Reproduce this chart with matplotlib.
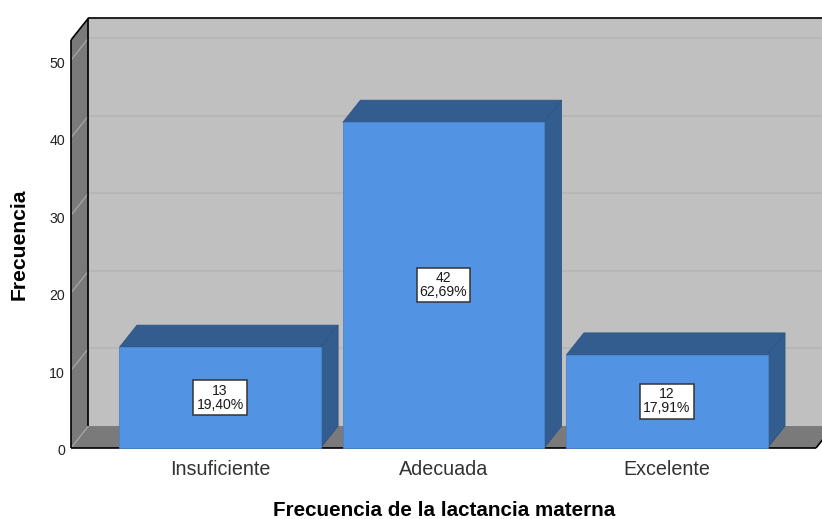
# coding: UTF-8

import matplotlib
matplotlib.use('Agg')

import matplotlib.pyplot as plt
from matplotlib.patches import Polygon

plt.rcParams['font.family'] = ['Liberation Sans', 'DejaVu Sans']

categorias = ['Insuficiente', 'Adecuada', 'Excelente']
frecuencias = [13, 42, 12]
porcentajes = ['19,40%', '62,69%', '17,91%']
marcas_y = [0, 10, 20, 30, 40, 50]

# depth of the 3D box, in data units
DX = 0.0783
DY = 2.835
ANCHO = 0.9
XMIN, XMAX = -0.667, 2.667
YMAX = 52.6

PARED = '#c0c0c0'
LATERAL = '#7a7a7a'
AZUL = '#5294e3'
AZUL_OSC = '#335c8f'

fig = plt.figure(figsize=(8.22, 5.19), dpi=100, facecolor='white')
ax = fig.add_axes([71 / 822, 71 / 519, 745 / 822, 408 / 519])
ax.set_xlim(XMIN, XMAX)
ax.set_ylim(0, YMAX)
ax.axis('off')


def cara(puntos, color, zorder, edge='none', lw=0.0):
    p = Polygon(puntos, closed=True, facecolor=color, edgecolor=edge,
                linewidth=lw, zorder=zorder, clip_on=False)
    ax.add_patch(p)


def linea(xs, ys, color='black', lw=1.2, zorder=3):
    ax.plot(xs, ys, color=color, lw=lw, zorder=zorder, clip_on=False,
            solid_capstyle='butt')


# back wall, side wall and floor
cara([(XMIN + DX, DY), (XMAX + DX, DY), (XMAX + DX, YMAX + DY), (XMIN + DX, YMAX + DY)], PARED, 1)
cara([(XMIN, 0), (XMIN + DX, DY), (XMIN + DX, YMAX + DY), (XMIN, YMAX)], LATERAL, 1)
cara([(XMIN, 0), (XMAX, 0), (XMAX + DX, DY), (XMIN + DX, DY)], LATERAL, 1)

# grid on the wall and the diagonal part on the side wall
for v in marcas_y:
    if v > 0:
        linea([XMIN + DX, XMAX + DX], [v + DY, v + DY], '#b5b5b5', 1.3, 2)
    linea([XMIN, XMIN + DX], [v, v + DY], '#a6a6a6', 0.9, 2)
    ax.text(XMIN - 0.027, v - 0.45, str(v), ha='right', va='center', fontsize=10.2,
            color='#222222', clip_on=False)

# box outline
linea([XMIN, XMIN], [0, YMAX])
linea([XMIN + DX, XMIN + DX], [DY, YMAX + DY])
linea([XMIN, XMIN + DX], [YMAX, YMAX + DY])
linea([XMIN + DX, XMAX + DX], [YMAX + DY, YMAX + DY])
linea([XMIN, XMAX], [0, 0])
linea([XMAX, XMAX + DX], [0, DY])

# bars: front from ax.bar, top and side faces on the same values
for i, v in enumerate(frecuencias):
    x0 = i - ANCHO / 2
    x1 = i + ANCHO / 2
    cara([(x0, v), (x1, v), (x1 + DX, v + DY), (x0 + DX, v + DY)], AZUL_OSC, 4, '#2f5585', 0.6)
    cara([(x1, 0), (x1 + DX, DY), (x1 + DX, v + DY), (x1, v)], AZUL_OSC, 4, '#2f5585', 0.6)
ax.bar(range(3), frecuencias, width=ANCHO, color=AZUL, edgecolor='#4a84cc',
       linewidth=0.6, zorder=5, clip_on=False)

for i, v in enumerate(frecuencias):
    ax.text(i, v / 2, '%d\n%s' % (v, porcentajes[i]), ha='center', va='center',
            fontsize=10.1, linespacing=1.0, color='#1a1a1a', zorder=6, multialignment='center',
            bbox=dict(boxstyle='square,pad=0.22', facecolor='white', edgecolor='#333333', linewidth=1.1))

for i, nombre in enumerate(categorias):
    ax.text(i, -2.72, nombre, ha='center', va='center', fontsize=14.2,
            color='#333333', clip_on=False)

fig.text(444 / 822, 1 - 510 / 519, 'Frecuencia de la lactancia materna', ha='center',
         va='center', fontsize=14.9, fontweight='bold', color='black')
fig.text(19.5 / 822, 1 - 244 / 519, 'Frecuencia', rotation=90, ha='center',
         va='center', fontsize=15.2, fontweight='bold', color='black')

fig.savefig('out.png', dpi=100)
